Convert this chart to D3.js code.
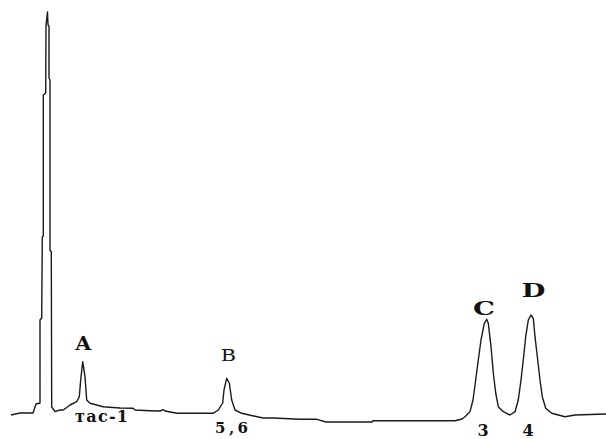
<!DOCTYPE html>
<html>
<head>
<meta charset="utf-8">
<script src="https://cdn.jsdelivr.net/npm/d3@7"></script>
<style>
html,body{margin:0;padding:0;background:#fff;}
svg{display:block;}
</style>
</head>
<body>
<svg id="chart" width="606" height="439"></svg>
<script>
// Retention time (arbitrary units) and detector signal
const time = [1.1,2.0,3.3,3.6,4.0,4.0,4.17,4.23,4.33,4.33,4.57,4.6,4.75,4.8,4.9,4.9,5.0,5.0,5.13,5.17,5.5,6.0,6.33,7.0,7.67,7.93,8.07,8.27,8.5,8.67,9.0,9.67,10.3,12.0,13.3,13.5,15.0,16.0,16.3,16.5,17.7,21.3,21.83,22.27,22.4,22.67,22.93,23.17,23.5,24.17,24.7,26.3,27.3,30.0,31.7,32.6,37.2,37.3,45.5,46.2,46.5,47.0,47.3,47.57,47.83,48.1,48.43,48.67,48.83,49.1,49.33,49.57,49.83,50.33,51.0,51.5,51.83,52.1,52.33,52.57,52.83,53.1,53.33,53.5,53.77,54.0,54.23,54.57,55.17,55.83,56.5,57.5,60.6];
const signal = [10,12,12,21,22,105,107,188,189,330,332,400,413,400,399,347,345,175,173,18,13.3,15,15,20,23.3,28.3,45,63.3,48.3,25,21.7,20,18.3,17,16.7,15,14.3,14,15.3,14,11.7,11.7,15,22,35,46.7,42,25,15,11.7,10.5,7,7,5.7,5.7,3,3,4.3,4.3,6,8.3,13.3,25,45,65,85,101.7,105.7,101.7,78.3,52,32,18.3,13.3,10,13.3,25,45,65,88.3,105,110,106.7,88.3,65,45,28.3,16.7,11.7,10,8.3,10,11];

// Peak labels (letter above, compound code below)
const peakLetters = ["A","B","C","D"];
const peakTimes = [8.33,22.83,48.4,53.35];
const peakCodes = ["тас-1","5,6","3","4"];
const codeTimes = [10.15,23.15,48.3,52.8];

const svg = d3.select("#chart");
const x = d3.scaleLinear().domain([0,60.6]).range([0,606]);
const y = d3.scaleLinear().domain([0,415]).range([425,10]);

const pts = time.map((t,i)=>[t,signal[i]]);
const line = d3.line().x(d=>x(d[0])).y(d=>y(d[1]));

svg.append("path")
  .datum(pts)
  .attr("d", line)
  .attr("fill","none")
  .attr("stroke","#1a1a1a")
  .attr("stroke-width",1.4)
  .attr("stroke-linejoin","round");

// letter labels
const letterStyle = [
  {sig:75, size:18, weight:"bold", sx:1.15},
  {sig:64.5, size:16, weight:"normal", sx:1.3},
  {sig:110, size:19, weight:"bold", sx:1.45},
  {sig:128, size:19, weight:"bold", sx:1.45}
];
peakLetters.forEach((L,i)=>{
  const s = letterStyle[i];
  const cx = x(peakTimes[i]), cy = y(s.sig);
  svg.append("text")
    .attr("transform",`translate(${cx},${cy}) scale(${s.sx},1)`)
    .attr("text-anchor","middle")
    .attr("font-family","'DejaVu Serif', serif")
    .attr("font-weight",s.weight)
    .attr("font-size",s.size)
    .attr("fill","#111")
    .text(L);
});

// code labels below
const codeStyle = [
  {sig:3.3, size:16, weight:"bold", len:53},
  {sig:-8, size:15, weight:"bold", len:33},
  {sig:-11, size:16, weight:"bold", len:0},
  {sig:-11, size:16, weight:"bold", len:0}
];
peakCodes.forEach((c,i)=>{
  const s = codeStyle[i];
  const t = svg.append("text")
    .attr("x", x(codeTimes[i]))
    .attr("y", y(s.sig))
    .attr("text-anchor","middle")
    .attr("font-family","'DejaVu Serif', serif")
    .attr("font-weight",s.weight)
    .attr("font-size",s.size)
    .attr("fill","#111")
    .text(c);
  if (s.len) t.attr("textLength", s.len).attr("lengthAdjust","spacing");
});
</script>
</body>
</html>
